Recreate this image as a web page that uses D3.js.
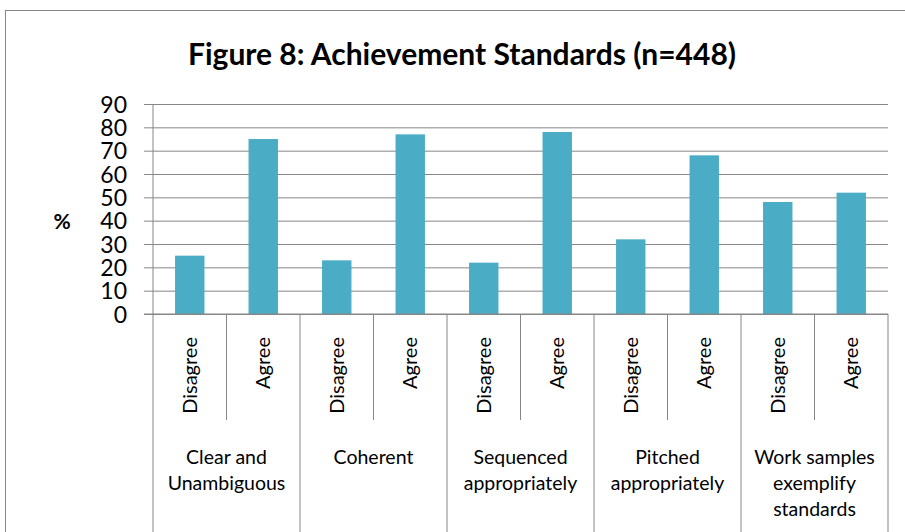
<!doctype html>
<html>
  <head>
    <script src="https://cdn.jsdelivr.net/npm/d3@7"></script>
    <style>
    body { margin: 0; background: #fff; }
    text { font-family: Lato, "Open Sans", sans-serif; fill: #000; }
    .title { font-weight: bold; }
    </style>
  </head>
  <body>
    <script>
      // data
      var groups = ["Clear and|Unambiguous", "Coherent", "Sequenced|appropriately",
                    "Pitched|appropriately", "Work samples|exemplify|standards"]
      var answers = ["Disagree", "Agree"]
      var disagree = [25, 23, 22, 32, 48]
      var agree = [75, 77, 78, 68, 52]
      var yTicks = [0, 10, 20, 30, 40, 50, 60, 70, 80, 90]

      var w_svg = 905, h_svg = 532
      var plotLeft = 153, plotRight = 888, plotTop = 104, plotBottom = 314
      var grey = "#868686"

      var svg = d3.select("body").append("svg")
                  .attr("width", w_svg)
                  .attr("height", h_svg)

      // outer frame
      svg.append("rect")
         .attr("x", 5.5).attr("y", 10.5)
         .attr("width", 920).attr("height", 540)
         .attr("fill", "none").attr("stroke", grey)

      // flatten into one row per bar
      var rows = []
      groups.forEach(function(g, i) {
        rows.push({ key: i + "-0", group: g, answer: answers[0], value: disagree[i] })
        rows.push({ key: i + "-1", group: g, answer: answers[1], value: agree[i] })
      })

      var x = d3.scaleBand()
                .domain(rows.map(function(d) { return d.key }))
                .range([plotLeft, plotRight])
                .paddingInner(0.6)
                .paddingOuter(0.3)
      var xGroup = d3.scaleBand().domain(groups).range([plotLeft, plotRight])
      var y = d3.scaleLinear().domain([0, 90]).range([plotBottom, plotTop])

      // gridlines + tick labels
      var yAxis = d3.axisLeft(y)
                    .tickValues(yTicks)
                    .tickSize(-(plotRight - plotLeft))
                    .tickSizeOuter(0)
                    .tickPadding(0)
      var ga = svg.append("g").attr("transform", "translate(" + plotLeft + ",0)").call(yAxis)
      ga.select(".domain").remove()
      ga.selectAll(".tick line")
        .attr("stroke", grey)
        .attr("x1", -9)
      ga.selectAll(".tick text")
        .attr("x", -26)
        .attr("dy", "0.36em")
        .style("font-size", "23px")
        .style("font-family", "Lato, sans-serif")
        .attr("fill", "#000")

      // bars
      svg.selectAll("rect.bar")
         .data(rows)
         .enter().append("rect")
         .attr("class", "bar")
         .attr("x", function(d) { return x(d.key) })
         .attr("width", x.bandwidth())
         .attr("y", function(d) { return y(d.value) })
         .attr("height", function(d) { return plotBottom - y(d.value) })
         .attr("fill", "#4BACC6")

      // axis lines
      svg.append("line")
         .attr("x1", plotLeft).attr("x2", plotLeft).attr("y1", plotTop).attr("y2", h_svg)
         .attr("stroke", grey)
      svg.append("line")
         .attr("x1", plotLeft - 9).attr("x2", plotRight).attr("y1", plotBottom).attr("y2", plotBottom)
         .attr("stroke", grey)

      // category separators
      var step = x.step()
      groups.forEach(function(g) {
        var gx = xGroup(g)
        svg.append("line")
           .attr("x1", gx + step).attr("x2", gx + step)
           .attr("y1", plotBottom).attr("y2", 420)
           .attr("stroke", grey)
        svg.append("line")
           .attr("x1", gx + xGroup.bandwidth()).attr("x2", gx + xGroup.bandwidth())
           .attr("y1", plotBottom).attr("y2", h_svg)
           .attr("stroke", grey)
      })

      // sub-category labels
      svg.selectAll("text.sub")
         .data(rows)
         .enter().append("text")
         .attr("class", "sub")
         .attr("text-anchor", "end")
         .attr("transform", function(d) {
           return "translate(" + (x(d.key) + x.bandwidth() / 2 + 7) + ",337) rotate(-90)"
         })
         .style("font-size", "20px")
         .text(function(d) { return d.answer })

      // group labels
      groups.forEach(function(g) {
        var t = svg.append("text")
                   .attr("text-anchor", "middle")
                   .attr("x", xGroup(g) + xGroup.bandwidth() / 2)
                   .attr("y", 464)
                   .style("font-size", "19.5px")
        g.split("|").forEach(function(line, i) {
          t.append("tspan")
           .attr("x", xGroup(g) + xGroup.bandwidth() / 2)
           .attr("dy", i == 0 ? 0 : 26)
           .text(line)
        })
      })

      // y label
      svg.append("text")
         .attr("x", 62).attr("y", 229)
         .attr("text-anchor", "middle")
         .style("font-size", "21px")
         .style("font-weight", "bold")
         .text("%")

      // title
      svg.append("text")
         .attr("class", "title")
         .attr("x", 462).attr("y", 65)
         .attr("text-anchor", "middle")
         .style("font-size", "30px")
         .text("Figure 8: Achievement Standards (n=448)")
    </script>
  </body>
</html>
